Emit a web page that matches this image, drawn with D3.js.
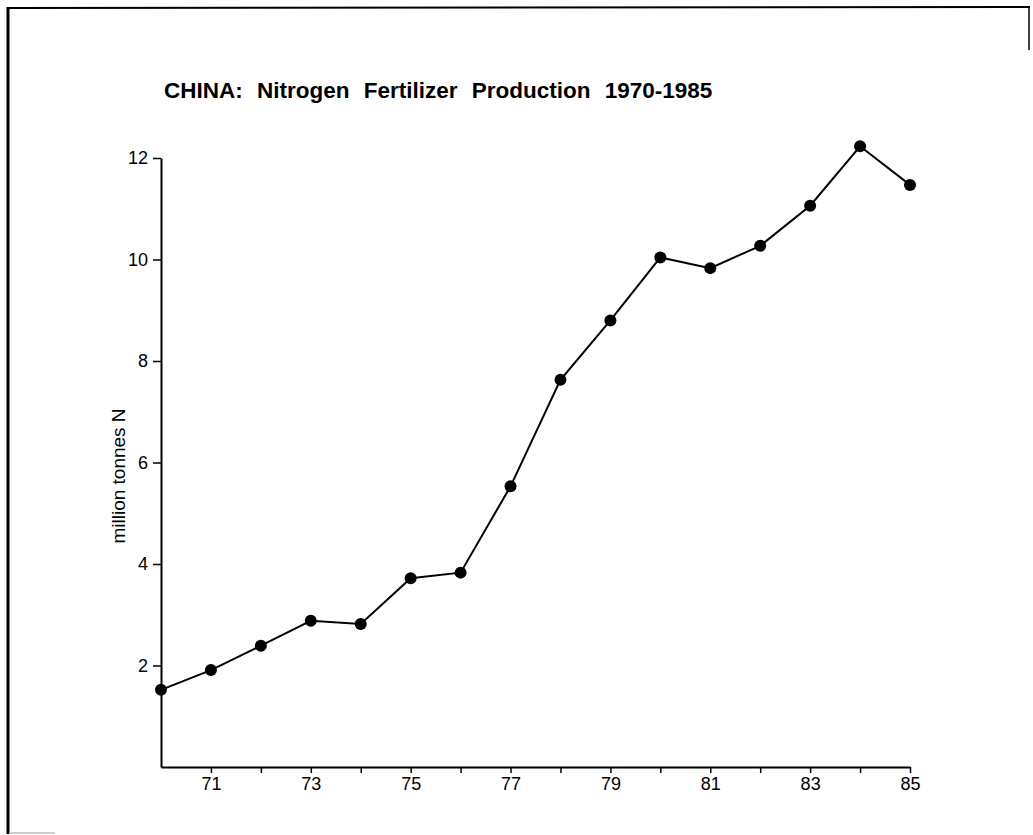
<!DOCTYPE html>
<html>
<head>
<meta charset="utf-8">
<script src="https://cdn.jsdelivr.net/npm/d3@7"></script>
<style>
  html, body { margin: 0; padding: 0; background: #fff; }
  svg { display: block; font-family: "Liberation Sans", Arial, Helvetica, sans-serif; }
</style>
</head>
<body>
<svg id="chart" width="1033" height="835"></svg>
<script>
// Data
const years = [70, 71, 72, 73, 74, 75, 76, 77, 78, 79, 80, 81, 82, 83, 84, 85];
const production = [1.52, 1.91, 2.39, 2.88, 2.82, 3.72, 3.83, 5.53, 7.63, 8.80, 10.04, 9.83, 10.27, 11.06, 12.23, 11.47];
const yTicks = [2, 4, 6, 8, 10, 12];
const xTicks = [71, 72, 73, 74, 75, 76, 77, 78, 79, 80, 81, 82, 83, 84, 85];
const xLabelYears = [71, 73, 75, 77, 79, 81, 83, 85];
const title = "CHINA: Nitrogen Fertilizer Production 1970-1985";
const yTitle = "million tonnes N";

const svg = d3.select("#chart");

// frame (scanned page border)
svg.append("line").attr("x1", 7).attr("y1", 8).attr("x2", 1030).attr("y2", 7)
  .attr("stroke", "#000").attr("stroke-width", 2);
svg.append("line").attr("x1", 8).attr("y1", 7).attr("x2", 8).attr("y2", 834)
  .attr("stroke", "#000").attr("stroke-width", 3);
svg.append("line").attr("x1", 1029).attr("y1", 7).attr("x2", 1029).attr("y2", 50)
  .attr("stroke", "#000").attr("stroke-width", 1.5);
svg.append("line").attr("x1", 9).attr("y1", 833).attr("x2", 55).attr("y2", 833)
  .attr("stroke", "#bbb").attr("stroke-width", 1.5);

const x = d3.scaleLinear().domain([70, 85]).range([161, 910]);
const y = d3.scaleLinear().domain([0, 12]).range([767, 158]);

// title
svg.append("text")
  .attr("x", 164).attr("y", 98)
  .attr("font-size", 22.5).attr("font-weight", "bold")
  .attr("word-spacing", 8)
  .attr("fill", "#000")
  .text(title);

// y axis
const yAxis = svg.append("g")
  .attr("transform", `translate(${x(70)},0)`)
  .call(d3.axisLeft(y).tickValues(yTicks).tickSize(8).tickSizeOuter(0).tickPadding(5)
    .tickFormat(d3.format("d")));
yAxis.select(".domain").attr("stroke-width", 2);
yAxis.selectAll(".tick line").attr("stroke-width", 1.5);
yAxis.selectAll("text").attr("font-size", 18).attr("font-family", "\"Liberation Sans\", Arial, sans-serif").attr("fill", "#000");

// x axis
const xAxis = svg.append("g")
  .attr("transform", `translate(0,${y(0)})`)
  .call(d3.axisBottom(x).tickValues(xTicks).tickSize(6).tickSizeOuter(0).tickPadding(4)
    .tickFormat(d => xLabelYears.includes(d) ? String(d) : ""));
xAxis.select(".domain").attr("stroke-width", 2);
xAxis.selectAll(".tick line").attr("stroke-width", 1.5);
xAxis.selectAll("text").attr("font-size", 18).attr("font-family", "\"Liberation Sans\", Arial, sans-serif").attr("fill", "#000");

// y axis title
svg.append("text")
  .attr("transform", `translate(125,476) rotate(-90)`)
  .attr("text-anchor", "middle")
  .attr("font-size", 19)
  .attr("fill", "#000")
  .text(yTitle);

// line
const data = years.map((yr, i) => ({ yr, v: production[i] }));
svg.append("path")
  .datum(data)
  .attr("fill", "none")
  .attr("stroke", "#000")
  .attr("stroke-width", 2)
  .attr("d", d3.line().x(d => x(d.yr)).y(d => y(d.v)));

// markers
svg.append("g").selectAll("circle")
  .data(data)
  .join("circle")
  .attr("cx", d => x(d.yr))
  .attr("cy", d => y(d.v))
  .attr("r", 6)
  .attr("fill", "#000");
</script>
</body>
</html>
